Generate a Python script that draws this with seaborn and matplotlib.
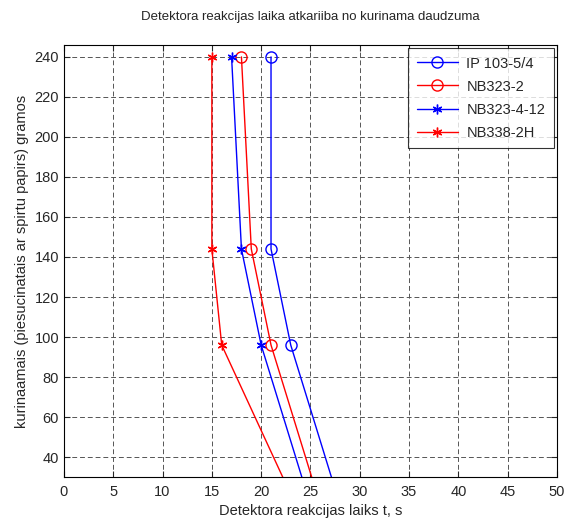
import matplotlib
matplotlib.use("Agg")
import matplotlib.pyplot as plt
import seaborn as sns
import pandas as pd

sns.set_style("ticks")
plt.rcParams['font.family'] = ['Liberation Sans', 'DejaVu Sans']

amount = [240, 144, 96, 0]
ip103 = [21, 21, 23, 29]
nb323_2 = [18, 19, 21, 27]
nb323_4_12 = [17, 18, 20, 26]
nb338_2h = [15, 15, 16, 25]

series_names = ['IP 103-5/4', 'NB323-2', 'NB323-4-12', 'NB338-2H']
series_values = [ip103, nb323_2, nb323_4_12, nb338_2h]
colors = ['#0000ff', '#ff0000', '#0000ff', '#ff0000']
markers = ['o', 'o', (6, 2, 0), (6, 2, 0)]

fig = plt.figure(figsize=(5.76, 5.22), dpi=100)
ax = fig.add_axes([0.111, 0.086, 0.856, 0.828])

for name, vals, c, m in zip(series_names, series_values, colors, markers):
    df = pd.DataFrame({'t': vals, 'g': amount})
    sns.lineplot(data=df, x='t', y='g', sort=False, estimator=None, ax=ax,
                 color=c, marker=m, markersize=8 if m == 'o' else 7,
                 markerfacecolor='none' if m == 'o' else c,
                 markeredgecolor=c, markeredgewidth=1.0, linewidth=1.0,
                 label=name)

ax.set_xlim(0, 50)
ax.set_ylim(30, 246)
ax.set_xticks(range(0, 51, 5))
ax.set_yticks(range(40, 241, 20))
ax.grid(True, linestyle=(0, (5, 3)), color='#555555', linewidth=0.7)
ax.tick_params(direction='in', labelsize=10.5, length=4, top=True, right=True)
ax.tick_params(axis='x', pad=6)
for s in ax.spines.values():
    s.set_linewidth(0.8)
    s.set_color('black')
ax.set_xlabel('Detektora reakcijas laiks t, s', fontsize=10.5, labelpad=3)
ax.set_ylabel('kurinaamais (piesucinatais ar spirtu papirs) gramos', fontsize=10.5, labelpad=4)
ax.set_title('Detektora reakcijas laika atkariiba no kurinama daudzuma', fontsize=9.5, pad=18)

leg = ax.legend(loc='upper right', fontsize=10.5, frameon=True, fancybox=False,
                edgecolor='black', borderaxespad=0.2, handlelength=2.8,
                labelspacing=0.62, borderpad=0.6, handletextpad=0.6)
leg.get_frame().set_linewidth(0.8)

fig.savefig('out.png', dpi=100)
